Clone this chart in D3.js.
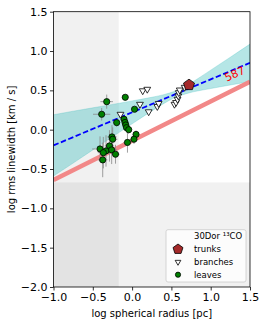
<!DOCTYPE html>
<html>
<head>
<meta charset="utf-8">
<script src="https://cdn.jsdelivr.net/npm/d3@7"></script>
<style>
  body { margin: 0; background: #fff; }
  text { font-family: "DejaVu Sans", sans-serif; }
</style>
</head>
<body>
<div id="chart"></div>
<script>
// leaves (x = log R, y = log sigma, with error bars)
const leafX = [-0.323, -0.087, -0.387, 0.031, -0.196, -0.103, -0.090, -0.081, -0.071, -0.043,
    0.050, 0.024, -0.059, -0.256, -0.247, -0.288, -0.408, -0.332, -0.366, -0.260, -0.211, -0.374];
const leafY = [0.356, 0.412, 0.196, 0.260, 0.090, 0.133, 0.092, 0.060, 0.026, 0.000,
    -0.060, -0.121, -0.162, -0.092, -0.121, -0.206, -0.245, -0.270, -0.292, -0.257, -0.312, -0.384];
const leafXerr = [0.08, 0.03, 0.11, 0.03, 0.04, 0.03, 0.03, 0.03, 0.04, 0.04,
    0.04, 0.04, 0.05, 0.06, 0.06, 0.06, 0.10, 0.08, 0.07, 0.07, 0.05, 0.06];
const leafYerr = [0.09, 0.03, 0.08, 0.03, 0.05, 0.04, 0.04, 0.04, 0.05, 0.05,
    0.05, 0.06, 0.13, 0.15, 0.15, 0.20, 0.16, 0.20, 0.20, 0.18, 0.12, 0.22];

// branches
const branchX = [0.135, 0.193, 0.100, -0.148, 0.211, 0.321, 0.338, 0.539, 0.559, 0.578, 0.588, 0.594, 0.606, 0.669];
const branchY = [0.495, 0.514, 0.323, 0.196, 0.228, 0.295, 0.334, 0.323, 0.346, 0.387, 0.429, 0.471, 0.505, 0.539];

// trunks
const trunkX = [0.724];
const trunkY = [0.569];

// fit and its confidence band
const fitX = [-1.0, 1.5];
const fitY = [-0.20, 0.85];
const bandX = [-1.0, -0.75, -0.5, -0.25, 0.0, 0.25, 0.4, 0.55, 0.7, 1.0, 1.25, 1.5];
const bandHi = [0.190, 0.235, 0.278, 0.321, 0.366, 0.412, 0.445, 0.491, 0.567, 0.757, 0.922, 1.088];
const bandLo = [-0.590, -0.425, -0.258, -0.091, 0.074, 0.238, 0.331, 0.411, 0.461, 0.523, 0.568, 0.612];

// reference relation (red)
const refX = [-1.0, 1.5];
const refY = [-0.64, 0.61];

// resolution limits (shaded)
const limitX = -0.17;
const limitY = -0.67;

const xTicks = [-1.0, -0.5, 0.0, 0.5, 1.0, 1.5];
const yTicks = [-2.0, -1.5, -1.0, -0.5, 0.0, 0.5, 1.0, 1.5];

const width = 266, height = 326;
const margin = { left: 53.5, right: 16, top: 11.7, bottom: 39 };

const svg = d3.select("#chart").append("svg")
    .attr("width", width)
    .attr("height", height);

const x = d3.scaleLinear().domain([-1.0, 1.5]).range([margin.left, width - margin.right]);
const y = d3.scaleLinear().domain([-2.0, 1.5]).range([height - margin.bottom, margin.top]);

svg.append("defs").append("clipPath").attr("id", "clip")
    .append("rect")
    .attr("x", x(-1)).attr("y", y(1.5))
    .attr("width", x(1.5) - x(-1)).attr("height", y(-2) - y(1.5));

const plot = svg.append("g").attr("clip-path", "url(#clip)");

// shaded regions
plot.append("rect")
    .attr("x", x(-1)).attr("y", y(1.5))
    .attr("width", x(limitX) - x(-1)).attr("height", y(-2) - y(1.5))
    .attr("fill", "#000").attr("fill-opacity", 0.055);
plot.append("rect")
    .attr("x", x(-1)).attr("y", y(limitY))
    .attr("width", x(1.5) - x(-1)).attr("height", y(-2) - y(limitY))
    .attr("fill", "#000").attr("fill-opacity", 0.055);

// band
const area = d3.area()
    .x((d, i) => x(bandX[i]))
    .y0((d, i) => y(bandLo[i]))
    .y1((d, i) => y(bandHi[i]))
    .curve(d3.curveMonotoneX);
plot.append("path")
    .datum(bandX)
    .attr("d", area)
    .attr("fill", "#2ab7b7")
    .attr("fill-opacity", 0.35)
    .attr("stroke", "#2ab7b7")
    .attr("stroke-opacity", 0.3)
    .attr("stroke-width", 0.8);

const line = d3.line().x(d => x(d[0])).y(d => y(d[1]));

// reference relation
plot.append("path")
    .datum(refX.map((v, i) => [v, refY[i]]))
    .attr("d", line)
    .attr("fill", "none")
    .attr("stroke", "#f28888")
    .attr("stroke-width", 4.5);

// error bars
const eb = plot.append("g").attr("stroke", "#888").attr("stroke-opacity", 0.8).attr("stroke-width", 1);
leafX.forEach((v, i) => {
    eb.append("line")
        .attr("x1", x(v - leafXerr[i])).attr("x2", x(v + leafXerr[i]))
        .attr("y1", y(leafY[i])).attr("y2", y(leafY[i]));
    eb.append("line")
        .attr("x1", x(v)).attr("x2", x(v))
        .attr("y1", y(leafY[i] - leafYerr[i])).attr("y2", y(leafY[i] + leafYerr[i]));
});

// fit line
plot.append("path")
    .datum(fitX.map((v, i) => [v, fitY[i]]))
    .attr("d", line)
    .attr("fill", "none")
    .attr("stroke", "#0000ff")
    .attr("stroke-width", 1.8)
    .attr("stroke-dasharray", "5.5,2.5");

// leaves
plot.selectAll(".leaf")
    .data(leafX)
    .enter().append("circle")
    .attr("class", "leaf")
    .attr("cx", d => x(d))
    .attr("cy", (d, i) => y(leafY[i]))
    .attr("r", 3.1)
    .attr("fill", "#008000")
    .attr("stroke", "#000")
    .attr("stroke-width", 0.8);

// branches
const tri = d3.symbol().type(d3.symbolTriangle).size(20);
plot.selectAll(".branch")
    .data(branchX)
    .enter().append("path")
    .attr("class", "branch")
    .attr("d", tri)
    .attr("transform", (d, i) => `translate(${x(d)},${y(branchY[i])}) rotate(180)`)
    .attr("fill", "#fff")
    .attr("stroke", "#000")
    .attr("stroke-width", 0.8);

// pentagon marker
function pentagon(r) {
    const pts = d3.range(5).map(k => {
        const a = -Math.PI / 2 + k * 2 * Math.PI / 5;
        return [r * Math.cos(a), r * Math.sin(a)];
    });
    return "M" + pts.map(p => p.join(",")).join("L") + "Z";
}

plot.selectAll(".trunk")
    .data(trunkX)
    .enter().append("path")
    .attr("class", "trunk")
    .attr("d", pentagon(5.8))
    .attr("transform", (d, i) => `translate(${x(d)},${y(trunkY[i])})`)
    .attr("fill", "#a52a2a")
    .attr("stroke", "#000")
    .attr("stroke-width", 0.8);

// annotation
svg.append("text")
    .attr("transform", `translate(${x(1.31)},${y(0.70)}) rotate(-24)`)
    .attr("text-anchor", "middle")
    .attr("dominant-baseline", "middle")
    .attr("font-size", 11)
    .attr("fill", "#ff0000")
    .text("587");

// axes
const xAxis = svg.append("g")
    .attr("transform", `translate(0,${y(-2)})`)
    .call(d3.axisBottom(x).tickValues(xTicks).tickFormat(d3.format(".1f")).tickSize(3.5).tickPadding(3));
const yAxis = svg.append("g")
    .attr("transform", `translate(${x(-1)},0)`)
    .call(d3.axisLeft(y).tickValues(yTicks).tickFormat(d3.format(".1f")).tickSize(3.5).tickPadding(2.5));
[xAxis, yAxis].forEach(a => {
    a.select(".domain").remove();
    a.selectAll("text").attr("font-size", 11).attr("font-family", "DejaVu Sans").attr("fill", "#000");
    a.selectAll("line").attr("stroke", "#000").attr("stroke-width", 0.8);
});

// frame
svg.append("rect")
    .attr("x", x(-1)).attr("y", y(1.5))
    .attr("width", x(1.5) - x(-1)).attr("height", y(-2) - y(1.5))
    .attr("fill", "none").attr("stroke", "#000").attr("stroke-width", 0.8);

// axis labels
svg.append("text")
    .attr("x", (x(-1) + x(1.5)) / 2)
    .attr("y", 317)
    .attr("text-anchor", "middle")
    .attr("font-size", 10)
    .text("log spherical radius [pc]");
svg.append("text")
    .attr("transform", `translate(15,${(y(-2) + y(1.5)) / 2}) rotate(-90)`)
    .attr("text-anchor", "middle")
    .attr("font-size", 10)
    .text("log rms linewidth [km / s]");

// legend
const lg = svg.append("g").attr("transform", "translate(166,229.7)");
lg.append("rect")
    .attr("width", 80).attr("height", 52.3).attr("rx", 2)
    .attr("fill", "#fff").attr("fill-opacity", 0.8)
    .attr("stroke", "#ccc").attr("stroke-width", 0.8);
lg.append("text").attr("x", 28).attr("y", 9.5).attr("font-size", 8.5).text("30Dor ¹³CO");
lg.append("path").attr("d", pentagon(5.2)).attr("transform", "translate(12,19.5)")
    .attr("fill", "#a52a2a").attr("stroke", "#000").attr("stroke-width", 0.8);
lg.append("text").attr("x", 28).attr("y", 22.5).attr("font-size", 8.5).text("trunks");
lg.append("path").attr("d", d3.symbol().type(d3.symbolTriangle).size(14)).attr("transform", "translate(12,32.3) rotate(180)")
    .attr("fill", "#fff").attr("stroke", "#000").attr("stroke-width", 0.8);
lg.append("text").attr("x", 28).attr("y", 35.3).attr("font-size", 8.5).text("branches");
lg.append("circle").attr("cx", 12).attr("cy", 45).attr("r", 2.6)
    .attr("fill", "#008000").attr("stroke", "#000").attr("stroke-width", 0.8);
lg.append("text").attr("x", 28).attr("y", 48).attr("font-size", 8.5).text("leaves");
</script>
</body>
</html>
